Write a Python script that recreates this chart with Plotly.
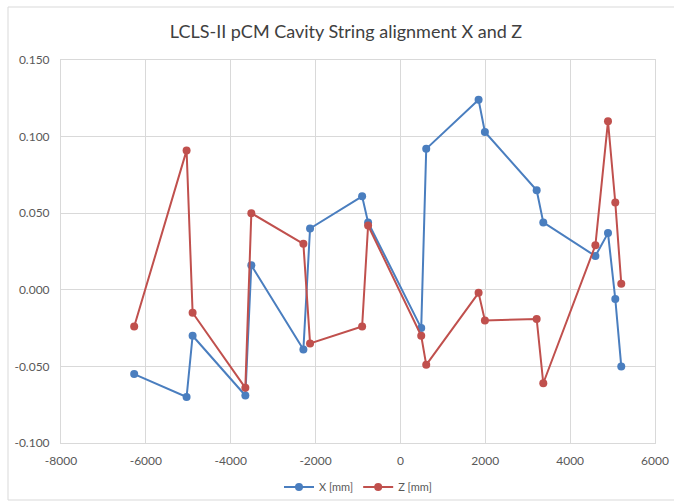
import plotly.graph_objects as go

# Cavity positions along the string [mm]
position_mm = [-6275, -5040, -4898, -3655, -3514, -2287, -2130, -903, -762,
               490, 608, 1842, 1991, 3211, 3367, 4595, 4892, 5064, 5205]

# Measured offsets
x_offset = [-0.055, -0.070, -0.030, -0.069, 0.016, -0.039, 0.040, 0.061, 0.044,
            -0.025, 0.092, 0.124, 0.103, 0.065, 0.044, 0.022, 0.037, -0.006, -0.050]
z_offset = [-0.024, 0.091, -0.015, -0.064, 0.050, 0.030, -0.035, -0.024, 0.042,
            -0.030, -0.049, -0.002, -0.020, -0.019, -0.061, 0.029, 0.110, 0.057, 0.004]

x_ticks = [-8000, -6000, -4000, -2000, 0, 2000, 4000, 6000]
y_ticks = [-0.100, -0.050, 0.000, 0.050, 0.100, 0.150]

BLUE = "#4a7ebf"
RED = "#c0504d"
GRID = "#d9d9d9"
TEXT = "#595959"

fig = go.Figure()
fig.add_trace(go.Scatter(
    x=position_mm, y=x_offset, name="X [mm]", mode="lines+markers",
    line=dict(color=BLUE, width=2), marker=dict(color=BLUE, size=8)))
fig.add_trace(go.Scatter(
    x=position_mm, y=z_offset, name="Z [mm]", mode="lines+markers",
    line=dict(color=RED, width=2), marker=dict(color=RED, size=8)))

L, R, T, B = 61, 19, 60, 58
W, H = 674, 501
pw, ph = W - L - R, H - T - B

fig.update_layout(
    width=W, height=H,
    margin=dict(l=L, r=R, t=T, b=B, autoexpand=False),
    paper_bgcolor="white", plot_bgcolor="white",
    font=dict(family="Lato, Open Sans, sans-serif", color=TEXT, size=12),
    title=dict(text="LCLS-II pCM Cavity String alignment X and Z",
               x=346 / W, xanchor="center", y=1 - 32 / H, yanchor="middle",
               font=dict(size=18, color="#404040")),
    xaxis=dict(range=[-8000, 6000], tickvals=x_ticks,
               ticktext=[str(v) for v in x_ticks],
               showgrid=True, gridcolor=GRID, gridwidth=1,
               zeroline=False, showline=True, linecolor=GRID, mirror=True,
               ticks="", ticklabelstandoff=7, automargin=False,
               tickfont=dict(size=12, color=TEXT)),
    yaxis=dict(range=[-0.100, 0.150], tickvals=y_ticks,
               ticktext=[f"{v:.3f}" for v in y_ticks],
               showgrid=True, gridcolor=GRID, gridwidth=1,
               zeroline=False, showline=True, linecolor=GRID, mirror=True,
               ticks="", ticklabelstandoff=8, automargin=False,
               tickfont=dict(size=12, color=TEXT)),
    legend=dict(orientation="h", x=0.5, xanchor="center",
                yref="container", y=(H - 487) / H, yanchor="middle",
                font=dict(size=11, color=TEXT), itemwidth=30,
                bgcolor="rgba(0,0,0,0)"),
    showlegend=True,
)

# Light frame around the whole chart area
fig.add_shape(type="rect", xref="paper", yref="paper",
              x0=(8 - L) / pw, x1=(W + 5 - L) / pw,
              y0=-(H - 1 - (H - B)) / ph, y1=1 + (T - 7) / ph,
              line=dict(color=GRID, width=1), fillcolor="rgba(0,0,0,0)",
              layer="below")

fig.write_html("out.html")
